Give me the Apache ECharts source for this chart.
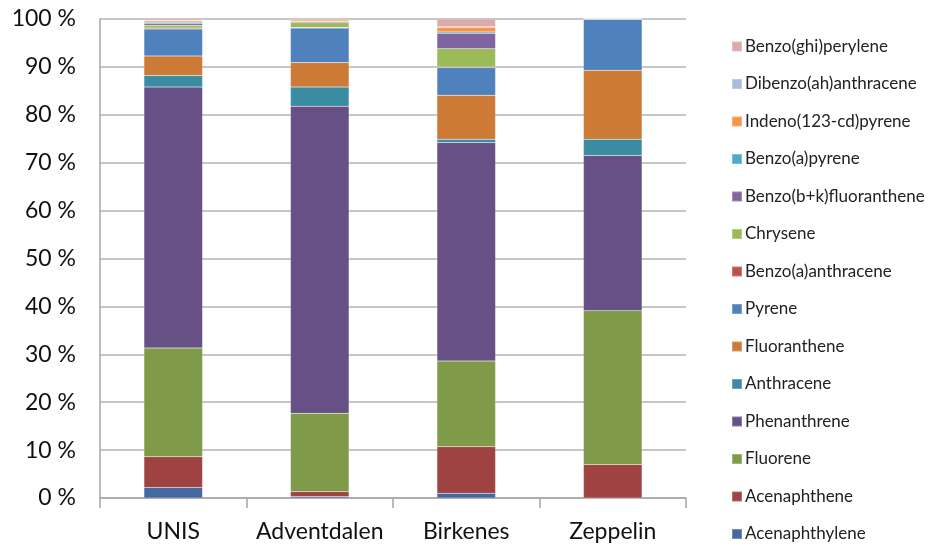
<!DOCTYPE html>
<html><head><meta charset="utf-8">
<script src="https://cdn.jsdelivr.net/npm/echarts@6/dist/echarts.min.js"></script>
<style>html,body{margin:0;padding:0;background:#fff}#c{width:931px;height:550px}</style>
</head><body><div id="c"></div>
<script>
const categories = ['UNIS', 'Adventdalen', 'Birkenes', 'Zeppelin'];
const seriesNames = ['Acenaphthylene','Acenaphthene','Fluorene','Phenanthrene','Anthracene','Fluoranthene','Pyrene','Benzo(a)anthracene','Chrysene','Benzo(b+k)fluoranthene','Benzo(a)pyrene','Indeno(123-cd)pyrene','Dibenzo(ah)anthracene','Benzo(ghi)perylene'];
const acenaphthylene = [2.2, 0.3, 1.0, 0];
const acenaphthene = [6.4, 1.0, 9.7, 7.0];
const fluorene = [22.7, 16.4, 17.9, 32.1];
const phenanthrene = [54.5, 64.1, 45.6, 32.4];
const anthracene = [2.4, 4.0, 0.7, 3.4];
const fluoranthene = [4.1, 5.1, 9.2, 14.4];
const pyrene = [5.6, 7.2, 5.7, 10.7];
const benzoAAnthracene = [0.2, 0.1, 0.2, 0];
const chrysene = [0.6, 1.0, 3.8, 0];
const benzoBKFluoranthene = [0.4, 0.2, 3.2, 0];
const benzoAPyrene = [0.2, 0.1, 0.3, 0];
const indenoPyrene = [0.3, 0.3, 1.0, 0];
const dibenzoAHAnthracene = [0.1, 0.05, 0.1, 0];
const benzoGhiPerylene = [0.3, 0.25, 1.6, 0];
const yTicks = [0,10,20,30,40,50,60,70,80,90,100];

const values = [acenaphthylene, acenaphthene, fluorene, phenanthrene, anthracene, fluoranthene, pyrene, benzoAAnthracene, chrysene, benzoBKFluoranthene, benzoAPyrene, indenoPyrene, dibenzoAHAnthracene, benzoGhiPerylene];
const colors = ['#44699E','#9E4341','#7F9A48','#675085','#3A8CA3','#CC7A36','#4F81BD','#C0504D','#9BBB59','#8064A2','#4BACC6','#F79646','#A9BCDB','#DCAAAB'];

const font = 'Lato, "Open Sans", sans-serif';
const chart = echarts.init(document.getElementById('c'), null, {renderer: 'canvas'});
chart.setOption({
  animation: false,
  color: colors,
  grid: {left: 100, top: 19, right: 245, bottom: 52, containLabel: false},
  legend: {
    orient: 'vertical', left: 726, top: 33, itemGap: 20.5, itemWidth: 10, itemHeight: 10,
    icon: 'rect',
    data: seriesNames.slice().reverse(),
    textStyle: {fontFamily: font, fontSize: 17, color: '#222', padding: [0,0,0,-2]}
  },
  xAxis: {
    type: 'category', data: categories,
    axisLine: {lineStyle: {color: '#A6A6A6', width: 1.5}},
    axisTick: {show: true, length: 10, lineStyle: {color: '#A6A6A6', width: 1.5}},
    axisLabel: {fontFamily: font, fontSize: 23, color: '#111', margin: 22, interval: 0}
  },
  yAxis: {
    type: 'value', min: 0, max: 100, interval: 10,
    axisLine: {show: true, lineStyle: {color: '#A6A6A6', width: 1.5}},
    axisTick: {show: false},
    splitLine: {lineStyle: {color: '#B3B3B3', width: 1.5}},
    axisLabel: {fontFamily: font, fontSize: 23, color: '#111', margin: 24, formatter: v => v + ' %'}
  },
  series: seriesNames.map((n, i) => ({
    name: n, type: 'bar', stack: 'total', barWidth: '40%',
    data: values[i],
    itemStyle: {color: colors[i], borderColor: 'rgba(255,255,255,0.25)', borderWidth: 0.5}
  }))
});
</script></body></html>
